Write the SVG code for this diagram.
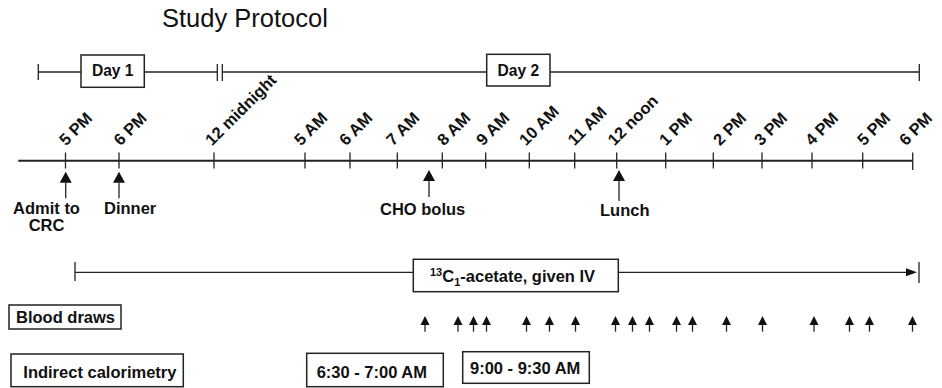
<svg xmlns="http://www.w3.org/2000/svg" width="942" height="388" viewBox="0 0 942 388">
<style>
  .title{font-family:"Liberation Sans",Arial,sans-serif;font-size:25.5px;fill:#111}
  .lbl{font-family:"Liberation Sans",Arial,sans-serif;font-weight:bold;font-size:16.5px;fill:#111}
  .day{font-family:"Liberation Sans",Arial,sans-serif;font-weight:bold;font-size:15.6px;fill:#111}
  .tick{font-family:"Liberation Sans",Arial,sans-serif;font-weight:bold;font-size:16.5px;fill:#111}
  .box{fill:#fff;stroke:#222;stroke-width:1.5}
  .ln{stroke:#222;stroke-width:1.3;fill:none}
  .tl{stroke:#222;stroke-width:2;fill:none}
</style>
<defs>
  <marker id="bigArrow" markerUnits="userSpaceOnUse" markerWidth="12" markerHeight="12" viewBox="0 0 12 12" refX="0" refY="6" orient="auto">
    <path d="M0,0 L11,6 L0,12 z" fill="#111"/>
  </marker>
  <marker id="smallArrow" markerUnits="userSpaceOnUse" markerWidth="10" markerHeight="10" viewBox="0 0 10 10" refX="0" refY="5" orient="auto">
    <path d="M0,0.5 L9,5 L0,9.5 z" fill="#111"/>
  </marker>
  <marker id="ivArrow" markerUnits="userSpaceOnUse" markerWidth="11" markerHeight="9" viewBox="0 0 11 9" refX="0" refY="4.5" orient="auto">
    <path d="M0,0.5 L11,4.5 L0,8.5 z" fill="#111"/>
  </marker>
</defs>

<g id="title"><text class="title" x="162" y="27">Study Protocol</text></g>

<g id="connectors">
  <!-- day line -->
  <line class="ln" x1="38.3" y1="72" x2="217.3" y2="72"/>
  <line class="ln" x1="222.3" y1="72" x2="919.3" y2="72"/>
  <line class="ln" x1="38.3" y1="64" x2="38.3" y2="80"/>
  <line class="ln" x1="217.3" y1="64" x2="217.3" y2="81"/>
  <line class="ln" x1="222.3" y1="64" x2="222.3" y2="81"/>
  <line class="ln" x1="919.3" y1="64" x2="919.3" y2="81"/>
  <!-- timeline -->
  <line class="tl" x1="18.3" y1="160.7" x2="912.7" y2="160.7"/>
  <g class="ln">
    <line x1="65.5" y1="152.5" x2="65.5" y2="168.5"/>
    <line x1="119" y1="152.5" x2="119" y2="168.5"/>
    <line x1="214" y1="152.5" x2="214" y2="168.5"/>
    <line x1="305" y1="152.5" x2="305" y2="168.5"/>
    <line x1="350" y1="152.5" x2="350" y2="168.5"/>
    <line x1="397.3" y1="152.5" x2="397.3" y2="168.5"/>
    <line x1="442.3" y1="152.5" x2="442.3" y2="168.5"/>
    <line x1="485.7" y1="152.5" x2="485.7" y2="168.5"/>
    <line x1="529.3" y1="152.5" x2="529.3" y2="168.5"/>
    <line x1="574.7" y1="152.5" x2="574.7" y2="168.5"/>
    <line x1="616.7" y1="152.5" x2="616.7" y2="168.5"/>
    <line x1="665.7" y1="152.5" x2="665.7" y2="168.5"/>
    <line x1="713.3" y1="152.5" x2="713.3" y2="168.5"/>
    <line x1="762" y1="152.5" x2="762" y2="168.5"/>
    <line x1="812" y1="152.5" x2="812" y2="168.5"/>
    <line x1="862.7" y1="152.5" x2="862.7" y2="168.5"/>
    <line x1="912.7" y1="152.5" x2="912.7" y2="170"/>
  </g>
  <!-- event arrows -->
  <line class="ln" x1="65.7" y1="198.3" x2="65.7" y2="182.7" marker-end="url(#bigArrow)"/>
  <line class="ln" x1="119" y1="198.3" x2="119" y2="182.7" marker-end="url(#bigArrow)"/>
  <line class="ln" x1="429" y1="197" x2="429" y2="181" marker-end="url(#bigArrow)"/>
  <line class="ln" x1="619" y1="201" x2="619" y2="181" marker-end="url(#bigArrow)"/>
  <!-- 13C infusion line -->
  <line class="ln" x1="75" y1="272.3" x2="906" y2="272.3" marker-end="url(#ivArrow)"/>
  <line class="ln" x1="75" y1="262" x2="75" y2="281"/>
  <line class="ln" x1="919" y1="262" x2="919" y2="283"/>
  <!-- blood draw arrows -->
  <g class="ln" marker-end="url(#smallArrow)">
    <line x1="425" y1="331.7" x2="425" y2="325"/>
    <line x1="458" y1="331.7" x2="458" y2="325"/>
    <line x1="473.5" y1="331.7" x2="473.5" y2="325"/>
    <line x1="486.5" y1="331.7" x2="486.5" y2="325"/>
    <line x1="526.5" y1="331.7" x2="526.5" y2="325"/>
    <line x1="549.5" y1="331.7" x2="549.5" y2="325"/>
    <line x1="575.5" y1="331.7" x2="575.5" y2="325"/>
    <line x1="615.5" y1="331.7" x2="615.5" y2="325"/>
    <line x1="632.5" y1="331.7" x2="632.5" y2="325"/>
    <line x1="649.5" y1="331.7" x2="649.5" y2="325"/>
    <line x1="676.5" y1="331.7" x2="676.5" y2="325"/>
    <line x1="692.5" y1="331.7" x2="692.5" y2="325"/>
    <line x1="726.5" y1="331.7" x2="726.5" y2="325"/>
    <line x1="762.5" y1="331.7" x2="762.5" y2="325"/>
    <line x1="814" y1="331.7" x2="814" y2="325"/>
    <line x1="849.5" y1="331.7" x2="849.5" y2="325"/>
    <line x1="869.5" y1="331.7" x2="869.5" y2="325"/>
    <line x1="912.5" y1="331.7" x2="912.5" y2="325"/>
  </g>
</g>

<g id="day1">
  <rect class="box" x="81" y="55" width="63.3" height="32.3"/>
  <text class="day" x="112.7" y="76" text-anchor="middle">Day 1</text>
</g>
<g id="day2">
  <rect class="box" x="486.7" y="54.3" width="63.3" height="31.7"/>
  <text class="day" x="518.3" y="76" text-anchor="middle">Day 2</text>
</g>

<g id="time-labels">
  <text class="tick" transform="translate(66,146.5) rotate(-45)">5 PM</text>
  <text class="tick" transform="translate(120.5,146.5) rotate(-45)">6 PM</text>
  <text class="tick" transform="translate(212,146.5) rotate(-45)">12 midnight</text>
  <text class="tick" transform="translate(301,146.5) rotate(-45)">5 AM</text>
  <text class="tick" transform="translate(346,146.5) rotate(-45)">6 AM</text>
  <text class="tick" transform="translate(393,146.5) rotate(-45)">7 AM</text>
  <text class="tick" transform="translate(444,146.5) rotate(-45)">8 AM</text>
  <text class="tick" transform="translate(483,146.5) rotate(-45)">9 AM</text>
  <text class="tick" transform="translate(526,146.5) rotate(-45)">10 AM</text>
  <text class="tick" transform="translate(574.5,146.5) rotate(-45)">11 AM</text>
  <text class="tick" transform="translate(614.5,146.5) rotate(-45)">12 noon</text>
  <text class="tick" transform="translate(666,146.5) rotate(-45)">1 PM</text>
  <text class="tick" transform="translate(720,146.5) rotate(-45)">2 PM</text>
  <text class="tick" transform="translate(761,146.5) rotate(-45)">3 PM</text>
  <text class="tick" transform="translate(812,146.5) rotate(-45)">4 PM</text>
  <text class="tick" transform="translate(864,146.5) rotate(-45)">5 PM</text>
  <text class="tick" transform="translate(906,146.5) rotate(-45)">6 PM</text>
</g>

<g id="admit">
  <text class="lbl" x="46.5" y="213.5" text-anchor="middle">Admit to</text>
  <text class="lbl" x="46.5" y="230.5" text-anchor="middle">CRC</text>
</g>
<g id="dinner"><text class="lbl" x="104" y="214">Dinner</text></g>
<g id="cho-bolus"><text class="lbl" x="380" y="215">CHO bolus</text></g>
<g id="lunch"><text class="lbl" x="600" y="215.5">Lunch</text></g>

<g id="acetate">
  <rect class="box" x="413.3" y="259.3" width="205" height="32.4"/>
  <text class="lbl" x="430" y="281.5"><tspan font-size="11" dy="-6">13</tspan><tspan dy="6">C</tspan><tspan font-size="11" dy="4">1</tspan><tspan dy="-4">-acetate, given IV</tspan></text>
</g>

<g id="blood-draws">
  <rect class="box" x="9" y="305" width="112" height="24"/>
  <text class="lbl" x="16" y="322.5">Blood draws</text>
</g>

<g id="indirect-calorimetry">
  <rect class="box" x="11" y="354" width="172.3" height="32.7"/>
  <text class="lbl" x="23.3" y="377.7">Indirect calorimetry</text>
</g>

<g id="ic-morning">
  <rect class="box" x="306.7" y="353.3" width="136.6" height="33.4"/>
  <text class="lbl" x="316.7" y="377.5">6:30 - 7:00 AM</text>
</g>

<g id="ic-late">
  <rect class="box" x="462.7" y="351.7" width="126.6" height="31.6"/>
  <text class="lbl" x="470" y="374">9:00 - 9:30 AM</text>
</g>
</svg>
